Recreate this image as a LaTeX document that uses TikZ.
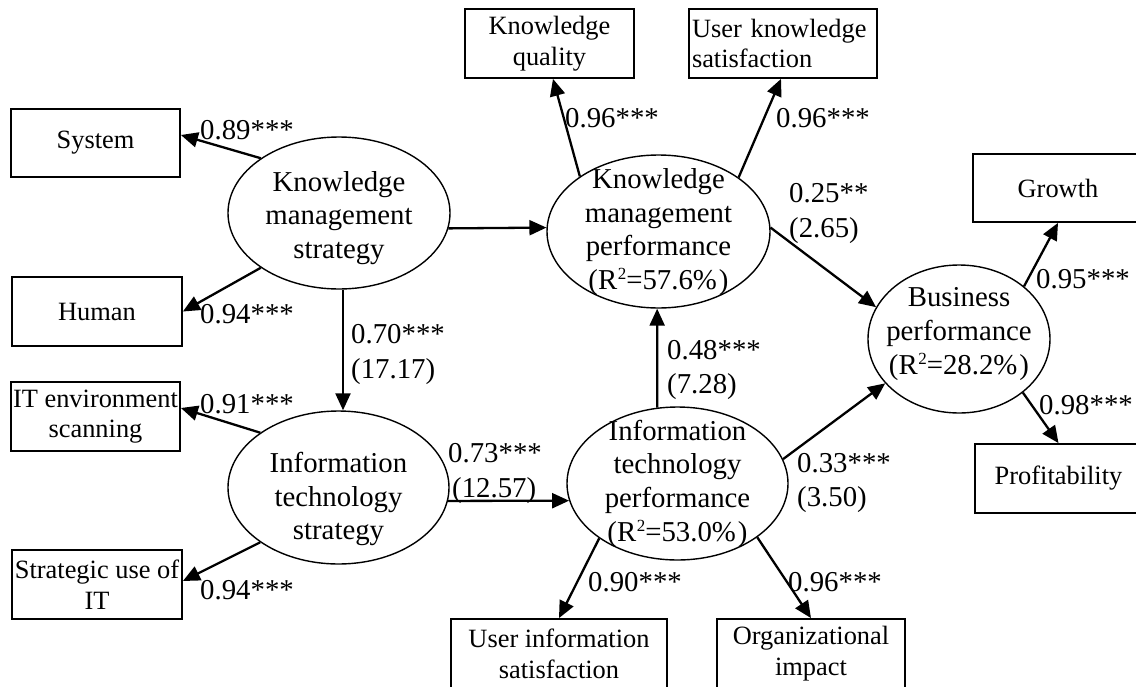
\documentclass[tikz,border=0pt]{standalone}
\usepackage{fontspec}
\setmainfont{Liberation Serif}
\usetikzlibrary{shapes.geometric,arrows.meta,calc}
\newcommand\bxfont{\fontsize{26.4}{30.7}\selectfont}
\newcommand\elfont{\fontsize{28.8}{33.7}\selectfont}
\newcommand\lbfont{\fontsize{28.8}{33.7}\selectfont}
\newcommand\rsq{R\kern0.5pt\raisebox{9.5pt}{\fontsize{17}{17}\selectfont 2}}
\begin{document}
\begin{tikzpicture}[x=1pt,y=-1pt,
  box/.style={draw,line width=1.8pt,inner sep=0pt,align=center,font=\bxfont},
  ell/.style={draw,ellipse,line width=1.4pt,inner sep=0pt},
  etext/.style={align=center,inner sep=0pt,font=\elfont},
  lab/.style={anchor=base west,inner sep=0pt,font=\lbfont},
  arr/.style={line width=2.3pt,-{Triangle[length=17pt,width=15pt]}}]
\useasboundingbox (0,0) rectangle (1136,686);
\clip (0,0) rectangle (1136,686);
\fill[white] (0,0) rectangle (1136,686);

% indicator boxes
\node[box,minimum width=169pt,minimum height=68pt] (system) at (95.5,143) {System};
\node[box,minimum width=170pt,minimum height=69pt] (human) at (97,311.5) {Human};
\node[box,minimum width=169pt,minimum height=69pt] (itenv) at (95.5,416.5) {IT environment\\scanning};
\node[box,minimum width=170pt,minimum height=69pt] (sui) at (97,584.5) {Strategic use of\\IT};
\node[box,minimum width=169pt,minimum height=69pt] (kq) at (549.5,43.5) {Knowledge\\quality};
\node[box,minimum width=188pt,minimum height=69pt,text width=182pt,align=left,inner xsep=3pt] (uks) at (783,43.5) {User knowledge\\satisfaction};
\node[box,minimum width=170pt,minimum height=68pt] (growth) at (1058,188) {Growth};
\node[box,minimum width=167pt,minimum height=69pt] (profit) at (1058.5,478.5) {Profitability};
\node[box,minimum width=216pt,minimum height=69pt] (uis) at (559,653.5) {User information\\satisfaction};
\node[box,minimum width=188pt,minimum height=69pt] (oi) at (811,653.5) {Organizational\\impact};

% latent constructs
\node[ell,minimum width=222pt,minimum height=152pt] (kms) at (339,213) {};
\node[ell,minimum width=221pt,minimum height=153pt] (its) at (338.5,487.5) {};
\node[ell,minimum width=223pt,minimum height=153pt] (kmp) at (658.5,231.5) {};
\node[ell,minimum width=221pt,minimum height=153pt] (itp) at (677.5,483.5) {};
\node[ell,minimum width=182pt,minimum height=148pt] (bp) at (959,339) {};

\node[etext] (kmsT) at (339,218) {Knowledge\\management\\strategy};
\node[etext] (itsT) at (338.5,499) {Information\\technology\\strategy};
\node[etext] (kmpT) at (658.5,232) {Knowledge\\management\\performance\\(\rsq=57.6\%\kern2pt)};
\node[etext] (itpT) at (677.5,483.5) {Information\\technology\\performance\\(\rsq=53.0\%\kern2pt)};
\node[etext] (bpT) at (959,334) {Business\\performance\\(\rsq=28.2\%\kern2pt)};

% connectors
\draw[arr] (kms.145) -- ($(system.east)+(0,-8)$);
\draw[arr] (kms.215) -- (human.east);
\draw[arr] ($(kms.south)+(4,0)$) -- ($(its.north)+(4.5,0)$);
\draw[arr] (kms.-8) -- (kmp.178);
\draw[arr] (its.145) -- ($(itenv.east)+(0,-8.5)$);
\draw[arr] (its.215) -- ($(sui.east)+(0,-3.5)$);
\draw[arr] (its.-7) -- (itp.189);
\draw[arr] (itp.105) -- (kmp.269);
\draw[arr] (itp.215) -- (uis.north);
\draw[arr] (itp.-34) -- (oi.north);
\draw[arr] (itp.13) -- (bp.211);
\draw[arr] (kmp.2) -- (bp.159);
\draw[arr] (kmp.145) -- ($(kq.south)+(3.5,0)$);
\draw[arr] (kmp.34) -- ($(uks.south)+(-2,0)$);
\draw[arr] (bp.39) -- (growth.south);
\draw[arr] (bp.-40) -- (profit.north);

% labels
\node[lab] (l89) at (200,139) {0.89***};
\node[lab] (l94a) at (200,323) {0.94***};
\node[lab] (l70a) at (351,343) {0.70***};
\node[lab] (l70b) at (351,378) {(17.17)};
\node[lab] (l91) at (200,413) {0.91***};
\node[lab] (l94b) at (200,599) {0.94***};
\node[lab] (l73a) at (448,462) {0.73***};
\node[lab] (l73b) at (452,497) {(12.57)};
\node[lab] (l96a) at (565,127) {0.96***};
\node[lab] (l96b) at (776,127) {0.96***};
\node[lab] (l25a) at (789,202) {0.25**};
\node[lab] (l25b) at (789,237) {(2.65)};
\node[lab] (l48a) at (667,359) {0.48***};
\node[lab] (l48b) at (667,393) {(7.28)};
\node[lab] (l33a) at (797,472) {0.33***};
\node[lab] (l33b) at (797,506) {(3.50)};
\node[lab] (l90) at (588,591) {0.90***};
\node[lab] (l96c) at (788,591) {0.96***};
\node[lab] (l95) at (1036,288) {0.95***};
\node[lab] (l98) at (1039,414) {0.98***};
\end{tikzpicture}
\end{document}
